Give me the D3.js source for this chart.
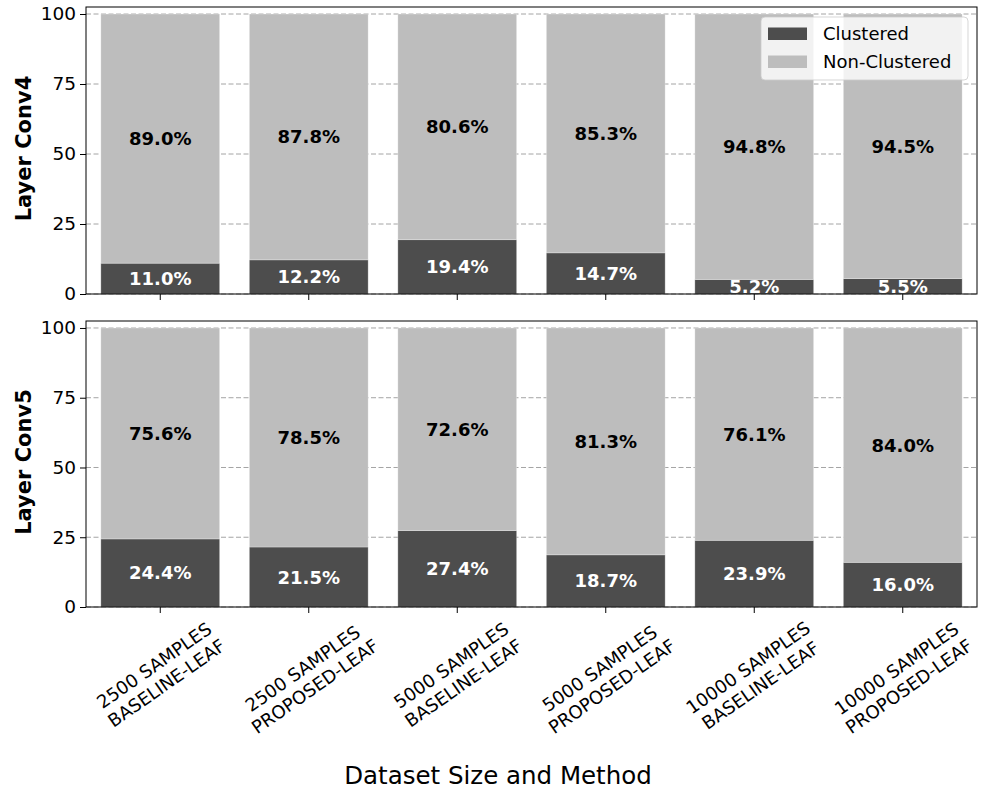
<!DOCTYPE html>
<html>
<head>
<meta charset="utf-8">
<script src="https://cdn.jsdelivr.net/npm/d3@7"></script>
<style>
  body { margin: 0; background: #fff; }
  text { font-family: "DejaVu Sans", sans-serif; }
</style>
</head>
<body>
<div id="chart"></div>
<script>
// datos
var categories = [
    ["2500 SAMPLES", "BASELINE-LEAF"],
    ["2500 SAMPLES", "PROPOSED-LEAF"],
    ["5000 SAMPLES", "BASELINE-LEAF"],
    ["5000 SAMPLES", "PROPOSED-LEAF"],
    ["10000 SAMPLES", "BASELINE-LEAF"],
    ["10000 SAMPLES", "PROPOSED-LEAF"]
];
var layers = ["Layer Conv4", "Layer Conv5"];
var clusteredConv4 = [11.0, 12.2, 19.4, 14.7, 5.2, 5.5];
var nonClusteredConv4 = [89.0, 87.8, 80.6, 85.3, 94.8, 94.5];
var clusteredConv5 = [24.4, 21.5, 27.4, 18.7, 23.9, 16.0];
var nonClusteredConv5 = [75.6, 78.5, 72.6, 81.3, 76.1, 84.0];
var yTicks = [0, 25, 50, 75, 100];
var seriesNames = ["Clustered", "Non-Clustered"];

var width = 996;
var height = 797;
var ColorDark = "#4d4d4d";
var ColorLight = "#bdbdbd";

var svg = d3.select('#chart')
    .append('svg')
    .attr('width', width)
    .attr('height', height);

var left = 86, right = 977;
var panels = [
    { top: 7, bottom: 294, clustered: clusteredConv4, non: nonClusteredConv4, label: layers[0] },
    { top: 321, bottom: 607, clustered: clusteredConv5, non: nonClusteredConv5, label: layers[1] }
];

var xscale = d3.scaleBand()
    .domain(d3.range(categories.length))
    .range([left, right])
    .paddingInner(0.2)
    .paddingOuter(0.1);

panels.forEach(function(p, pi) {
    var yscale = d3.scaleLinear()
        .domain([0, 102.5])
        .range([p.bottom, p.top]);

    var g = svg.append('g');

    // rejilla
    g.selectAll('.grid')
        .data(yTicks)
        .enter()
        .append('line')
        .attr('x1', left)
        .attr('x2', right)
        .attr('y1', d => yscale(d))
        .attr('y2', d => yscale(d))
        .attr('stroke', '#a4a4a4')
        .attr('stroke-width', 1)
        .attr('stroke-dasharray', '5,2.5');

    var rows = p.clustered.map(function(c, i) {
        return { i: i, c: c, n: p.non[i] };
    });

    // barras
    g.selectAll('.bc')
        .data(rows)
        .enter()
        .append('rect')
        .attr('x', d => xscale(d.i))
        .attr('width', xscale.bandwidth())
        .attr('y', d => yscale(d.c))
        .attr('height', d => yscale(0) - yscale(d.c))
        .attr('fill', ColorDark)
        .attr('stroke', 'white')
        .attr('stroke-opacity', 0.35)
        .attr('stroke-width', 0.8);

    g.selectAll('.bn')
        .data(rows)
        .enter()
        .append('rect')
        .attr('x', d => xscale(d.i))
        .attr('width', xscale.bandwidth())
        .attr('y', d => yscale(d.c + d.n))
        .attr('height', d => yscale(d.c) - yscale(d.c + d.n))
        .attr('fill', ColorLight)
        .attr('stroke', 'white')
        .attr('stroke-opacity', 0.35)
        .attr('stroke-width', 0.8);

    // etiquetas de porcentaje
    g.selectAll('.lc')
        .data(rows)
        .enter()
        .append('text')
        .attr('x', d => xscale(d.i) + xscale.bandwidth() / 2)
        .attr('y', d => yscale(d.c / 2))
        .attr('text-anchor', 'middle')
        .attr('dominant-baseline', 'central')
        .attr('fill', 'white')
        .style('font-size', '18px')
        .attr('font-weight', 700)
        .text(d => d.c.toFixed(1) + '%');

    g.selectAll('.ln')
        .data(rows)
        .enter()
        .append('text')
        .attr('x', d => xscale(d.i) + xscale.bandwidth() / 2)
        .attr('y', d => yscale(d.c + d.n / 2))
        .attr('text-anchor', 'middle')
        .attr('dominant-baseline', 'central')
        .attr('fill', 'black')
        .style('font-size', '18px')
        .attr('font-weight', 700)
        .text(d => d.n.toFixed(1) + '%');

    // ejes
    var yaxis = d3.axisLeft(yscale)
        .tickValues(yTicks)
        .tickSize(6)
        .tickPadding(4);
    var ya = g.append('g')
        .attr('transform', 'translate(' + left + ',0)')
        .call(yaxis);
    ya.select('.domain').remove();
    ya.selectAll('text').style('font-size', '18.5px').attr('fill', 'black')
        .style('font-family', '"DejaVu Sans", sans-serif');

    var xaxis = d3.axisBottom(xscale)
        .tickSize(6)
        .tickFormat('');
    var xa = g.append('g')
        .attr('transform', 'translate(0,' + p.bottom + ')')
        .call(xaxis);
    xa.select('.domain').remove();

    // marco
    g.append('rect')
        .attr('x', left)
        .attr('y', p.top)
        .attr('width', right - left)
        .attr('height', p.bottom - p.top)
        .attr('fill', 'none')
        .attr('stroke', 'black')
        .attr('stroke-width', 1);

    // titulo eje y
    g.append('text')
        .attr('transform', 'translate(31,' + ((p.top + p.bottom) / 2 - 2) + ') rotate(-90)')
        .attr('text-anchor', 'middle')
        .style('font-size', '21px')
        .attr('font-weight', 700)
        .text(p.label);

    // etiquetas x en el panel de abajo (lineas centradas, giradas 35 grados)
    if (pi == 1) {
        categories.forEach(function(lines, i) {
            var cx = xscale(i) + xscale.bandwidth() / 2;
            var lab = g.append('g');
            var t = lab.append('text')
                .attr('transform', 'rotate(-35)')
                .attr('text-anchor', 'middle')
                .style('font-size', '18px');
            lines.forEach(function(l, k) {
                t.append('tspan')
                    .attr('x', 0)
                    .attr('dy', k ? '1.2em' : 0)
                    .text(l);
            });
            var bb = lab.node().getBBox();
            lab.attr('transform', 'translate(' + (cx - (bb.x + bb.width / 2)) + ',' + (p.bottom + 10 - bb.y) + ')');
        });
    }

    // leyenda
    if (pi == 0) {
        var legend = g.append('g');
        legend.append('rect')
            .attr('x', 761)
            .attr('y', 17)
            .attr('width', 207)
            .attr('height', 63)
            .attr('rx', 4)
            .attr('fill', 'white')
            .attr('fill-opacity', 0.8)
            .attr('stroke', '#cccccc')
            .attr('stroke-opacity', 0.8);
        var items = legend.selectAll('.item')
            .data(seriesNames)
            .enter()
            .append('g')
            .attr('transform', (d, i) => 'translate(768,' + (27.5 + i * 28) + ')');
        items.append('rect')
            .attr('width', 39)
            .attr('height', 12.5)
            .attr('fill', (d, i) => i == 0 ? ColorDark : ColorLight);
        items.append('text')
            .attr('x', 55)
            .attr('y', 12)
            .style('font-size', '18px')
            .text(d => d);
    }
});

svg.append('text')
    .attr('x', width / 2)
    .attr('y', 784)
    .attr('text-anchor', 'middle')
    .style('font-size', '24.5px')
    .text('Dataset Size and Method');
</script>
</body>
</html>
